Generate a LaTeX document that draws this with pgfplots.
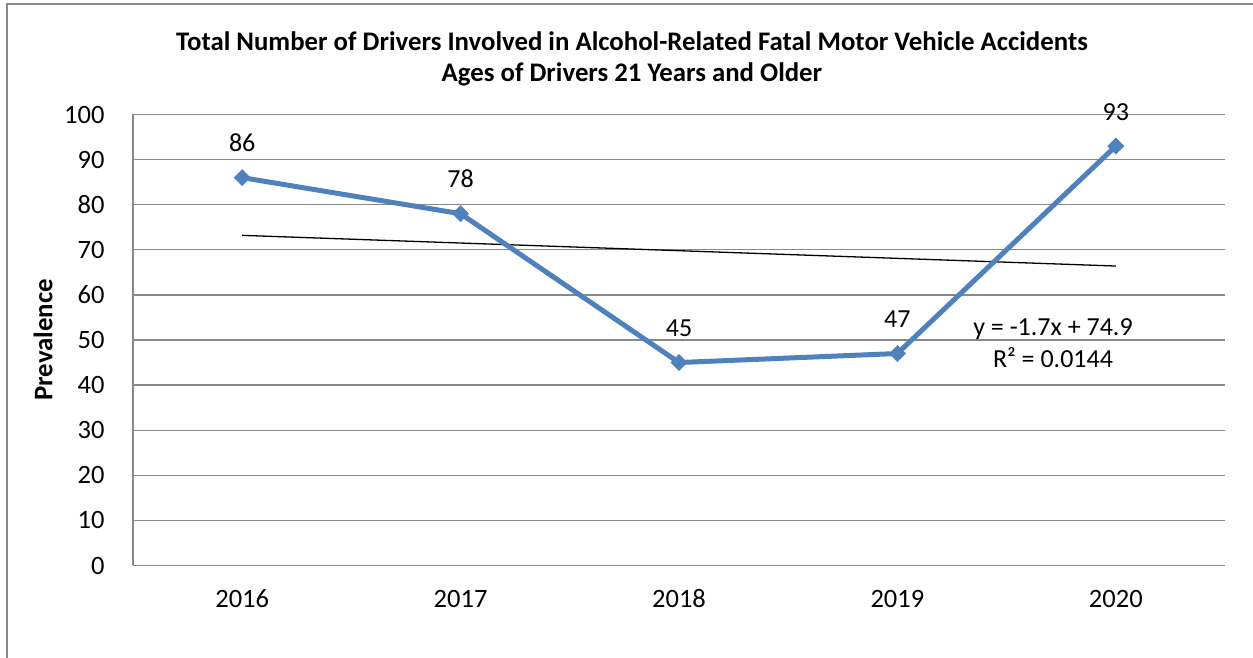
\documentclass[border=0pt]{standalone}
\usepackage{pgfplots}
\pgfplotsset{compat=1.18}
\usepackage{fontspec}
\setmainfont{Carlito}
\definecolor{serblue}{HTML}{4F81BD}
\definecolor{gridgray}{HTML}{898989}
\begin{document}
\begin{tikzpicture}
\useasboundingbox (0pt,0pt) rectangle (1253pt,658pt);
\draw[gridgray, line width=2pt] (7pt,-5pt) -- (7pt,654pt) -- (1260pt,654pt);
\node[font=\fontsize{26.8}{31}\selectfont\bfseries, align=center] at (632pt,599.5pt)
  {Total Number of Drivers Involved in Alcohol-Related Fatal Motor Vehicle Accidents\\Ages of Drivers 21 Years and Older};
\node[font=\fontsize{26.8}{31}\selectfont\bfseries, rotate=90] at (43pt,318pt) {Prevalence};
\begin{axis}[
  at={(133pt,92.5pt)}, anchor=south west,
  scale only axis, width=1092pt, height=451pt,
  xmin=-0.5, xmax=4.5, ymin=0, ymax=100,
  xtick={0,1,2,3,4}, xticklabels={2016,2017,2018,2019,2020},
  ytick={0,10,...,100},
  major tick length=0pt,
  axis lines*=left,
  axis line style={gridgray, line width=1.3pt, -},
  ymajorgrids, grid style={gridgray, line width=1.3pt},
  tick label style={font=\fontsize{26.5}{31}\selectfont, black},
  /pgf/number format/assume math mode=true,
  yticklabel style={anchor=east, xshift=-25pt},
  xticklabel style={anchor=base, yshift=-42.5pt, inner sep=0pt},
  clip=false,
]
\addplot[black, line width=1.3pt] coordinates {(0,73.2) (4,66.4)};
\addplot[serblue, line width=5pt, mark=square*, mark size=5.7pt,
  mark options={solid, rotate=45, line width=0.5pt, fill=serblue},
  nodes near coords,
  every node near coord/.style={anchor=base, yshift=26pt, font=\fontsize{26}{31}\selectfont, black, inner sep=0pt},
] coordinates {(0,86) (1,78) (2,45) (3,47) (4,93)};
\end{axis}
\node[font=\fontsize{26}{31}\selectfont, align=center] at (1053pt,315pt)
  {y = -1.7x + 74.9\\[1pt]R² = 0.0144};
\end{tikzpicture}
\end{document}
